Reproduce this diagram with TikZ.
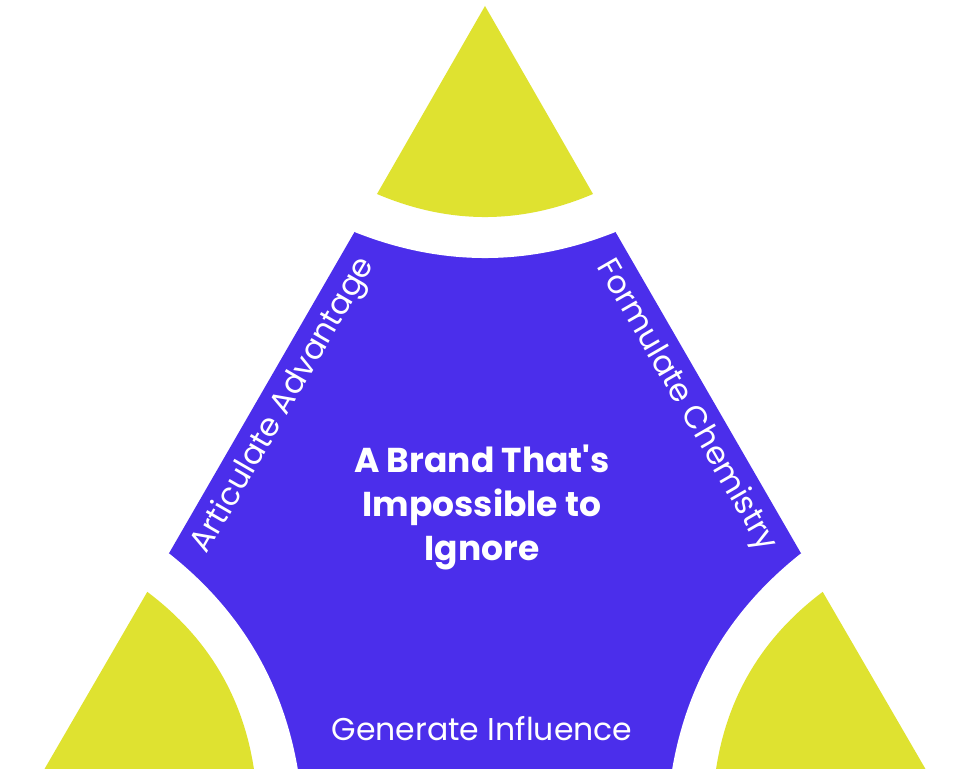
\documentclass[tikz,border=0pt]{standalone}
\usepackage{fontspec}
\setmainfont{Poppins}
\usepackage{xcolor}
\definecolor{brandblue}{HTML}{4B2EEB}
\definecolor{brandyellow}{HTML}{DFE230}

\begin{document}
\begin{tikzpicture}[x=1pt, y=1pt,
        side label/.style={text=white, font=\fontsize{31.5}{36}\selectfont, inner sep=0pt},
        core label/.style={text=white, font=\fontsize{34.5}{44}\selectfont\bfseries, align=center, inner sep=0pt}]
        % Canvas
        \useasboundingbox (-485,-246.4) rectangle (475,521.6);
        \clip (-485,-246.4) rectangle (475,521.6);
        \fill[white] (-485,-246.4) rectangle (475,521.6);

        % Blue core triangle
        \fill[brandblue] (90:515.6) -- (210:515.6) -- (330:515.6) -- cycle;

        % Gap and yellow cap at each corner
        \foreach \a in {0,120,240} {
            \begin{scope}[rotate=\a]
                \fill[white] (130.5,289.6) .. controls (43.5,254.9) and (-43.5,254.9) .. (-130.5,289.6)
                    -- (-330,640) -- (330,640) -- cycle;
                \fill[brandyellow] (90:515.6) -- (108,327.6) .. controls (36,296.9) and (-36,296.9) .. (-108,327.6) -- cycle;
            \end{scope}
        }

        % Centre text
        \node (core) [core label] at (-3,14.6) {A Brand That\textquotesingle s\\Impossible to\\Ignore};

        % Labels along the edges
        \node (advantage) [side label, rotate=60] at (150:232) {Articulate Advantage};
        \node (chemistry) [side label, rotate=-60] at (30:232) {Formulate Chemistry};
        \node (influence) [side label, anchor=base] at (-3,-218.4) {Generate Influence};
\end{tikzpicture}
\end{document}
